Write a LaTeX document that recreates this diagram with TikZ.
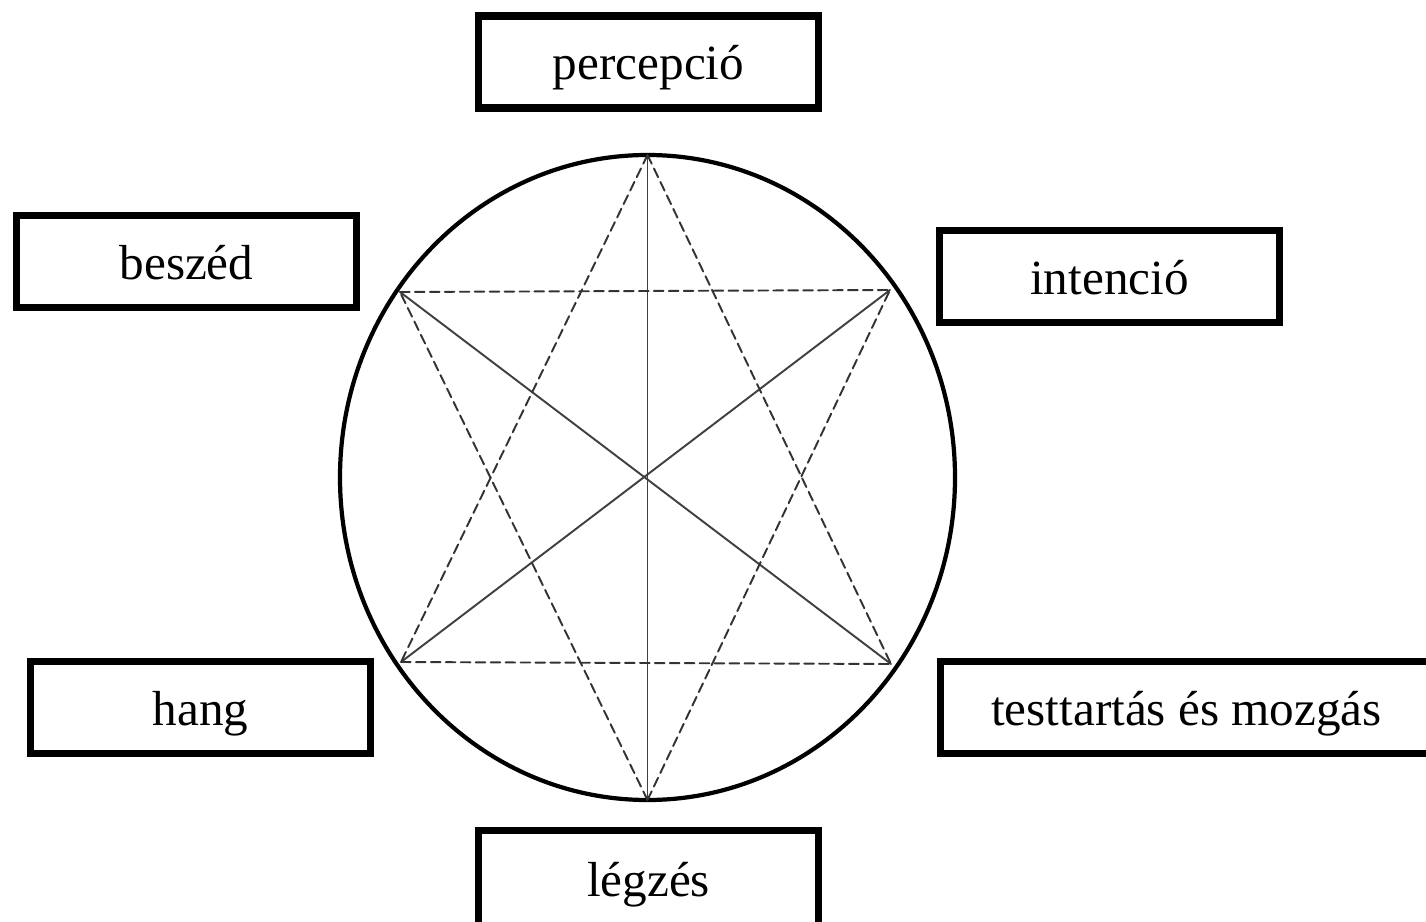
\documentclass[tikz,border=0pt]{standalone}
\usepackage{fontspec}
\setmainfont{Liberation Serif}
\usepackage{tikz, tkz-euclide}
\usetikzlibrary{calc}

\tikzset{
  labelbox/.style={draw, line width=4pt, minimum width=6.8cm, minimum height=1.84cm,
    inner sep=0pt, text height=0.97cm, text depth=0.25cm,
    font=\fontsize{28}{34}\selectfont},
  starline/.style={line width=1.1pt, color=black!75},
  stardash/.style={line width=1.1pt, color=black!80, dash pattern=on 5.5pt off 3pt}
}

\begin{document}
\begin{tikzpicture}[x=0.02cm, y=-0.02cm]
      \clip (0,0) rectangle (1426,922);
      \tkzDefPoints{647.5/477.5/O, 647.5/155/T, 647.5/800/B}
      \tkzDefPoints{400/292/UL, 890/290/UR, 401/662/LL, 891/664/LR}

      \draw[line width=2.4pt] (O) ellipse [x radius=307.5, y radius=322.5];
      \tkzDrawSegments[starline](T,B UL,LR UR,LL)
      \tkzDrawSegments[stardash](T,LL T,LR LL,LR)
      \tkzDrawSegments[stardash](B,UL B,UR UL,UR)

      \node[labelbox] (percepcio) at (648.5,62) {percepció};
      \node[labelbox] (beszed) at (186.5,261.5) {beszéd};
      \node[labelbox] (intencio) at (1109.5,276.5) {intenció};
      \node[labelbox] (hang) at (200.5,707.5) {hang};
      \node[labelbox, minimum width=9.84cm] (testtartas) at (1186.5,707.5) {testtartás és mozgás};
      \node[labelbox, minimum height=2cm, text height=0.9cm] (legzes) at (648.5,880.5) {légzés};
    \end{tikzpicture}
\end{document}
